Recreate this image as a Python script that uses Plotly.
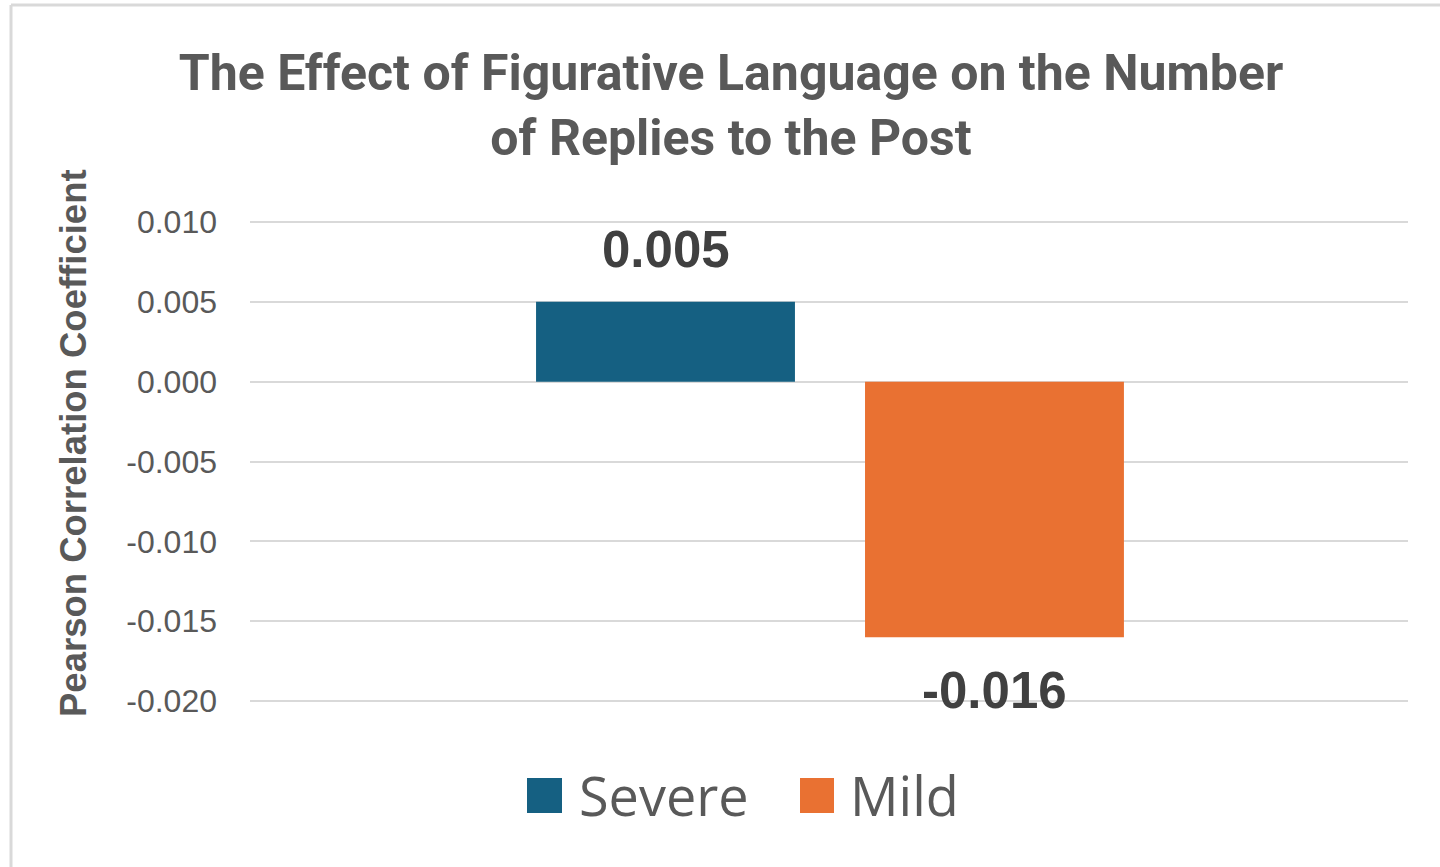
import plotly.graph_objects as go

# ---- data ----
series_names = ["Severe", "Mild"]
values = [0.005, -0.016]
colors = ["#156082", "#E97132"]
tick_vals = [0.010, 0.005, 0.000, -0.005, -0.010, -0.015, -0.020]
tick_text = ["0.010", "0.005", "0.000", "-0.005", "-0.010", "-0.015", "-0.020"]
title_text = "The Effect of Figurative Language on the Number<br>of Replies to the Post"
y_title = "Pearson Correlation Coefficient"

W, H = 1440, 867
ML, MR, MT, MB = 250, 32, 220, 164
PW, PH = W - ML - MR, H - MT - MB
Y_PAD = 0.000125  # ~2px so edge gridlines are drawn


def px_x(p):
    return (p - ML) / PW


def px_y(p):
    return (H - MB - p) / PH


fig = go.Figure()
for name, val, col in zip(series_names, values, colors):
    fig.add_trace(go.Bar(
        x=[name], y=[val], name=name,
        marker=dict(color=col, line=dict(width=0)),
        width=0.787, showlegend=False, cliponaxis=False,
    ))

annotations = []
# data labels
for name, val in zip(series_names, values):
    annotations.append(dict(
        x=name, y=val, xref="x", yref="y",
        text=f"{val:.3f}", showarrow=False,
        yshift=52 if val >= 0 else -53,
        yanchor="middle",
        font=dict(family="Liberation Sans", size=51, color="#404040", weight="bold"),
    ))

# y axis title
annotations.append(dict(
    x=px_x(73), y=px_y(443), xref="paper", yref="paper",
    text=f"<b>{y_title}</b>", textangle=-90, showarrow=False,
    xanchor="center", yanchor="middle",
    font=dict(family="Liberation Sans", size=36.5, color="#595959"),
))

# custom legend
shapes = []
legend_items = [(527, 562, 577), (800, 834, 848)]
for (sx0, sx1, tx), name, col in zip(legend_items, series_names, colors):
    shapes.append(dict(
        type="rect", xref="paper", yref="paper",
        x0=px_x(sx0), x1=px_x(sx1), y0=px_y(813), y1=px_y(778),
        fillcolor=col, line=dict(width=0),
    ))
    annotations.append(dict(
        x=px_x(tx), y=px_y(795), xref="paper", yref="paper",
        text=name, showarrow=False, xanchor="left", yanchor="middle",
        font=dict(family="Open Sans", size=54, color="#595959"),
    ))

# chart border (top and left edges visible)
shapes.append(dict(type="line", xref="paper", yref="paper",
                   x0=px_x(11), x1=px_x(1460), y0=px_y(5), y1=px_y(5),
                   line=dict(color="#D9D9D9", width=3)))
shapes.append(dict(type="line", xref="paper", yref="paper",
                   x0=px_x(11), x1=px_x(11), y0=px_y(5), y1=px_y(880),
                   line=dict(color="#D9D9D9", width=3)))

fig.update_layout(
    width=W, height=H,
    margin=dict(l=ML, r=MR, t=MT, b=MB),
    paper_bgcolor="white", plot_bgcolor="white",
    barmode="overlay",
    title=dict(
        text=title_text, x=731 / W, xanchor="center",
        y=1 - 90 / H, yanchor="top", yref="container",
        font=dict(family="Roboto", size=50, color="#595959", weight="bold"),
    ),
    xaxis=dict(
        range=[-1.263, 2.257], showticklabels=False, showgrid=False,
        zeroline=False, showline=False, ticks="",
    ),
    yaxis=dict(
        range=[-0.020 - Y_PAD, 0.010 + Y_PAD], tickvals=tick_vals, ticktext=tick_text,
        showgrid=True, gridcolor="#D9D9D9", gridwidth=2,
        zeroline=True, zerolinecolor="#D9D9D9", zerolinewidth=2,
        showline=False, ticks="", ticklabelstandoff=32,
        tickfont=dict(family="Liberation Sans", size=32, color="#595959"),
    ),
    annotations=annotations,
    shapes=shapes,
)

fig.write_html("out.html", config={"displayModeBar": False},
               post_script="document.body.style.margin='0';")
